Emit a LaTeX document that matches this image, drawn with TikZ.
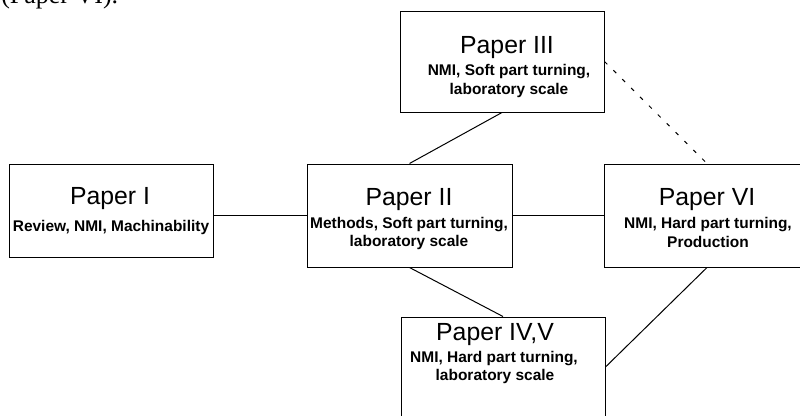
\documentclass[tikz,border=0pt]{standalone}
\usepackage{fontspec}
\setmainfont{Liberation Sans}
\newfontfamily\bodyserif{Liberation Serif}
\begin{document}
\begin{tikzpicture}[x=0.75pt,y=-0.75pt,
  paper/.style={draw=black, line width=0.75pt, inner sep=0pt, fill=white},
  ttl/.style={anchor=base, inner sep=0pt, font=\fontsize{18.6}{20}\selectfont},
  sub/.style={anchor=base, inner sep=0pt, font=\fontsize{11.6}{13.5}\selectfont\bfseries},
  link/.style={line width=0.75pt, draw=black},
  dotlink/.style={line width=0.75pt, draw=black, dash pattern=on 3pt off 6.4pt}]
\useasboundingbox (0,0) rectangle (800,415);
\clip (0,0) rectangle (800,415);

% body text cut at the top
\node[anchor=base west, inner sep=0pt, font=\bodyserif\fontsize{19.5}{22}\selectfont] (bt) at (1,3) {(Paper VI).};

% boxes
\node[paper, minimum width=153pt, minimum height=69.75pt] (p1) at (111,210.5) {};
\node[paper, minimum width=153.75pt, minimum height=77.25pt] (p2) at (409.5,215.5) {};
\node[paper, minimum width=153pt, minimum height=75.75pt] (p3) at (502,61.5) {};
\node[paper, minimum width=154.5pt, minimum height=77.25pt] (p6) at (707,215.5) {};
\node[paper, minimum width=153pt, minimum height=75pt] (p45) at (503,367) {};

% connectors
\draw[link] (p1.east |- p2.west) -- (p2.west);
\draw[link] (p2.east) -- (p6.west);
\draw[link] (p2.north) -- (p3.south);
\draw[link] (p2.south) -- (p45.north);
\draw[link] (p6.south) -- (p45.east);
\draw[dotlink] (p3.east) -- (p6.north);

% texts
\node[ttl] (t1) at (110,204) {Paper I};
\node[sub] (s1) at (111,231) {Review, NMI, Machinability};

\node[ttl] (t2) at (409,205) {Paper II};
\node[sub] (s2a) at (409,228) {Methods, Soft part turning,};
\node[sub] (s2b) at (409,246) {laboratory scale};

\node[ttl] (t3) at (507,53) {Paper III};
\node[sub] (s3a) at (509,75) {NMI, Soft part turning,};
\node[sub] (s3b) at (509,94) {laboratory scale};

\node[ttl] (t6) at (707,205) {Paper VI};
\node[sub] (s6a) at (708,228) {NMI, Hard part turning,};
\node[sub] (s6b) at (708,247) {Production};

\node[ttl] (t45) at (495,340) {Paper IV,V};
\node[sub] (s45a) at (494,362) {NMI, Hard part turning,};
\node[sub] (s45b) at (495,380) {laboratory scale};
\end{tikzpicture}
\end{document}
